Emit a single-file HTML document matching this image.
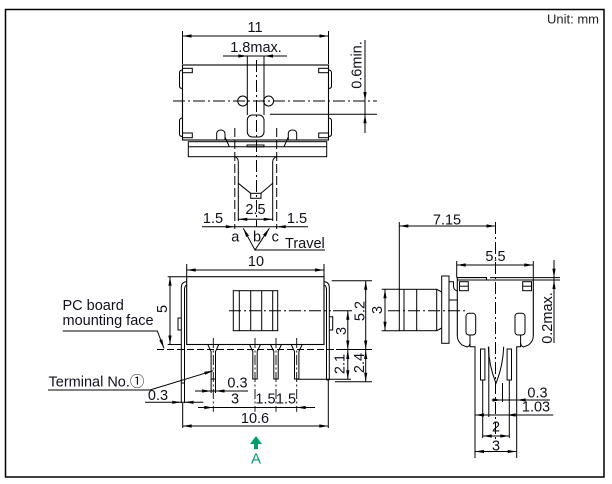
<!DOCTYPE html>
<html><head><meta charset="utf-8"><style>
html,body{margin:0;padding:0;background:#fff;}
svg{display:block;}
text{font-family:"Liberation Sans","Noto Sans CJK JP",sans-serif;fill:#10101c;font-size:14.5px;}
</style></head><body>
<svg width="612" height="484" viewBox="0 0 612 484" xmlns="http://www.w3.org/2000/svg">
<rect x="0" y="0" width="612" height="484" fill="#fff"/>
<rect x="5.5" y="9.5" width="598.5" height="467.5" fill="none" stroke="#000" stroke-width="1.5"/>
<text x="599" y="23.5" text-anchor="end" style="font-size:13px;fill:#222">Unit: mm</text>

<g fill="none" stroke="#000" stroke-width="1">
<!-- TOP VIEW -->
<line x1="182.5" y1="31" x2="182.5" y2="64"/>
<line x1="328.5" y1="31" x2="328.5" y2="64"/>
<line x1="182.5" y1="36" x2="328.5" y2="36"/>
<line x1="223" y1="56" x2="287" y2="56"/>
<line x1="247.3" y1="56" x2="247.3" y2="115"/>
<line x1="264" y1="56" x2="264" y2="115"/>
<line x1="256.5" y1="60" x2="256.5" y2="227" stroke-dasharray="12,3,2,3"/>
<rect x="182.5" y="65" width="146" height="75" stroke-width="1.1"/>
<rect x="182.5" y="68.3" width="9.8" height="4.4"/>
<rect x="318.7" y="68.3" width="9.8" height="4.4"/>
<rect x="182.5" y="133" width="9.8" height="4.7"/>
<rect x="318.7" y="133" width="9.8" height="4.7"/>
<path d="M182.5,70 Q179.5,70 179.5,73 V86 Q179.5,88.5 182.5,88.5"/>
<path d="M182.5,118 Q179.5,118 179.5,121 V134 Q179.5,136.5 182.5,136.5"/>
<path d="M328.5,70 Q331.5,70 331.5,73 V86 Q331.5,88.5 328.5,88.5"/>
<path d="M328.5,118 Q331.5,118 331.5,121 V134 Q331.5,136.5 328.5,136.5"/>
<line x1="173" y1="101" x2="377" y2="101" stroke-dasharray="12,3,2,3"/>
<circle cx="242.7" cy="101" r="5"/>
<circle cx="268.6" cy="101" r="5"/>
<rect x="247.3" y="115" width="16.7" height="22" rx="5"/>
<line x1="270" y1="114.3" x2="377" y2="114.3"/>
<line x1="365" y1="40" x2="365" y2="133"/>
<path d="M216.7,140 V133 Q217.5,130 220.8,130 Q224,130 225,133 V140"/>
<path d="M288.3,140 V133 Q289,130 292.5,130 Q296,130 296.7,133 V140"/>
<path d="M225,137 L229.3,146.7"/>
<path d="M288.3,137 L284,146.7"/>
<rect x="188.3" y="141.7" width="138.4" height="15"/>
<line x1="188.3" y1="146.7" x2="326.7" y2="146.7"/>
<rect x="247" y="145" width="17" height="1.8"/>
<path d="M235,156.7 Q238.3,158 238.3,162 V221"/>
<path d="M276.7,156.7 Q272.7,158 272.7,162 V221"/>
<path d="M238.3,183.3 L250.7,193.3 M272.7,183.3 L261,193.3"/>
<rect x="250.7" y="193.3" width="10.3" height="5"/>
<line x1="234.8" y1="128" x2="234.8" y2="229" stroke-dasharray="9,3"/>
<line x1="276.7" y1="128" x2="276.7" y2="229" stroke-dasharray="9,3"/>
<line x1="238.3" y1="219.3" x2="272.7" y2="219.3"/>
<line x1="202" y1="226.7" x2="308" y2="226.7"/>
<path d="M243.3,228.3 L255,250 L269.3,228.3"/>
<line x1="255" y1="250" x2="325" y2="250"/>

<!-- FRONT VIEW -->
<line x1="186.7" y1="264" x2="186.7" y2="277"/>
<line x1="324" y1="264" x2="324" y2="277"/>
<line x1="186.7" y1="270" x2="324" y2="270"/>
<rect x="186.7" y="276.7" width="137.3" height="67.8" stroke-width="1.1"/>
<path d="M186.7,281.7 Q181.3,281.7 181.3,288 V403"/>
<path d="M186.7,285 Q184.5,285.5 184.5,290 V403"/>
<path d="M181.3,383 H184.5"/>
<path d="M181.3,318 H178 V330 H181.3"/>
<path d="M324,281.7 Q329.3,281.7 329.3,288 V380"/>
<path d="M324,285 Q326.5,285.5 326.5,290 V380"/>
<path d="M326.5,380 H329.3"/>
<path d="M329.3,316.7 H332.7 V330 H329.3"/>
<line x1="328.3" y1="380" x2="328.3" y2="428"/>
<line x1="182.7" y1="403" x2="182.7" y2="428"/>
<rect x="233.3" y="290.7" width="44.4" height="40"/>
<path d="M239.3,290.7 V330.7 M250.7,290.7 V330.7 M261.7,290.7 V330.7 M272.7,290.7 V330.7"/>
<line x1="229" y1="310.7" x2="331" y2="310.7" stroke-dasharray="12,3,2,3"/>
<line x1="333" y1="310.7" x2="352" y2="310.7"/>
<line x1="331.7" y1="280.7" x2="372" y2="280.7"/>
<line x1="157" y1="349.5" x2="336" y2="349.5" stroke-dasharray="7,3"/>
<line x1="336" y1="349.5" x2="372" y2="349.5"/>
<line x1="335" y1="381.7" x2="372" y2="381.7"/>
<line x1="296.7" y1="379.3" x2="351" y2="379.3"/>
<line x1="167.7" y1="276.7" x2="186.7" y2="276.7"/>
<line x1="167.7" y1="344.5" x2="181" y2="344.5"/>
<line x1="170" y1="276.7" x2="170" y2="344.5"/>
<line x1="365.7" y1="280.7" x2="365.7" y2="381.7"/>
<line x1="347.8" y1="310.7" x2="347.8" y2="379.3"/>
<line x1="385" y1="289.3" x2="385" y2="330.7"/>
<line x1="381.7" y1="289.3" x2="399.3" y2="289.3"/>
<line x1="381.7" y1="330.7" x2="399.3" y2="330.7"/>
<!-- terminals -->
<path d="M207.8,344.5 L211.1,351.5 V379 H215.5 V351.5 L218.8,344.5"/>
<path d="M249.5,344.5 L252.8,351.5 V379 H257.2 V351.5 L260.5,344.5"/>
<path d="M270.5,344.5 L273.8,351.5 V379 H278.2 V351.5 L281.5,344.5"/>
<path d="M291.2,344.5 L294.5,351.5 V379 H298.9 V351.5 L302.2,344.5"/>
<g stroke-dasharray="10,2.5,2,2.5" stroke-width="0.9">
<line x1="213.3" y1="338" x2="213.3" y2="411.7"/>
<line x1="255" y1="338" x2="255" y2="411.7"/>
<line x1="276" y1="338" x2="276" y2="411.7"/>
<line x1="296.7" y1="338" x2="296.7" y2="411.7"/>
</g>
<line x1="211.1" y1="379" x2="211.1" y2="393"/>
<line x1="215.5" y1="379" x2="215.5" y2="393"/>
<path d="M48,390 H150 L213.3,370.7"/>
<path d="M62.7,331 H157.3 L164,348.3"/>
<line x1="195" y1="391" x2="248" y2="391"/>
<line x1="198" y1="407.5" x2="315" y2="407.5"/>
<line x1="182.7" y1="426" x2="328.3" y2="426"/>
<line x1="145" y1="402.3" x2="203.3" y2="402.3"/>

<!-- SIDE VIEW -->
<line x1="399.3" y1="226" x2="495.5" y2="226"/>
<line x1="399.3" y1="222" x2="399.3" y2="289.3"/>
<line x1="495.5" y1="222" x2="495.5" y2="440" stroke-dasharray="12,3,2,3"/>
<line x1="456.7" y1="265" x2="533.3" y2="265"/>
<line x1="456.7" y1="261" x2="456.7" y2="277.6"/>
<line x1="533.3" y1="261" x2="533.3" y2="280"/>
<line x1="554" y1="260" x2="554" y2="343"/>
<line x1="490" y1="277.6" x2="560" y2="277.6"/>
<line x1="533.3" y1="280" x2="560" y2="280"/>
<path d="M457.3,336 V277.6 H486.5 V280 M457.3,280 H533.3 V336" stroke-width="1.1"/>
<rect x="459.5" y="281.7" width="8.8" height="9"/>
<line x1="459.5" y1="286.2" x2="468.3" y2="286.2"/>
<rect x="522.7" y="281.7" width="8.8" height="9"/>
<line x1="522.7" y1="286.2" x2="531.5" y2="286.2"/>
<rect x="399.3" y="289.3" width="37.4" height="41.4"/>
<path d="M404,289.3 V330.7 M416.7,289.3 V330.7"/>
<path d="M436.7,289.3 L441.7,292 M436.7,330.7 L441.7,328"/>
<rect x="441.7" y="276" width="7.3" height="67.3"/>
<path d="M449,281.7 H453.5 V286 Q453.5,290 457.3,291"/>
<path d="M449,300 H457.3"/>
<line x1="388" y1="310.7" x2="468" y2="310.7" stroke-dasharray="12,3,2,3"/>
<rect x="466" y="313.3" width="9.7" height="21.7" rx="3"/>
<rect x="515" y="313.3" width="10" height="21.7" rx="3"/>
<path d="M457.3,336 Q457.3,341 462,345 L467,347 Q470,346 470,343 V335"/>
<path d="M533.3,336 Q533.3,341 528.6,345 L523.6,347 Q520.6,346 520.6,343 V335"/>
<path d="M470,343 V346.7 H475 V458"/>
<path d="M520.6,343 V346.7 H516.7 V458"/>
<rect x="480.5" y="349" width="4.4" height="31"/>
<rect x="507.1" y="349" width="4.4" height="31"/>
<line x1="482.7" y1="380" x2="482.7" y2="438"/>
<line x1="509.3" y1="380" x2="509.3" y2="438"/>
<path d="M488.3,346.7 Q489,366 496,383.3 Q503,366 503.7,346.7"/>
<line x1="488.8" y1="346.7" x2="488.8" y2="417"/>
<line x1="502.5" y1="383" x2="502.5" y2="402"/>
<line x1="491.7" y1="400" x2="550" y2="400"/>
<line x1="475" y1="415" x2="553.3" y2="415"/>
<line x1="482.7" y1="436" x2="509.3" y2="436"/>
<line x1="475" y1="451.5" x2="516.7" y2="451.5"/>
</g>

<g fill="#000" stroke="none">
<!-- top view arrows -->
<polygon points="182.5,36 191.5,34.4 191.5,37.6"/>
<polygon points="328.5,36 319.5,34.4 319.5,37.6"/>
<polygon points="247.3,56 238.3,54.4 238.3,57.6"/>
<polygon points="264,56 273,54.4 273,57.6"/>
<polygon points="365,101 363.4,92 366.6,92"/>
<polygon points="365,114.3 363.4,123.3 366.6,123.3"/>
<polygon points="238.3,219.3 247.3,217.7 247.3,220.9"/>
<polygon points="272.7,219.3 263.7,217.7 263.7,220.9"/>
<polygon points="234.8,226.7 225.8,225.1 225.8,228.3"/>
<polygon points="276.7,226.7 285.7,225.1 285.7,228.3"/>
<polygon points="243.3,228.3 249,235.5 246.2,237"/>
<polygon points="269.3,228.3 265.7,236.7 263,234.9"/>
<!-- front view arrows -->
<polygon points="186.7,270 195.7,268.4 195.7,271.6"/>
<polygon points="324,270 315,268.4 315,271.6"/>
<polygon points="170,276.7 168.4,285.7 171.6,285.7"/>
<polygon points="170,344.5 168.4,335.5 171.6,335.5"/>
<polygon points="365.7,280.7 364.1,289.7 367.3,289.7"/>
<polygon points="365.7,349.5 364.1,340.5 367.3,340.5"/>
<polygon points="365.7,350 364.1,359 367.3,359"/>
<polygon points="365.7,381.7 364.1,372.7 367.3,372.7"/>
<polygon points="347.8,310.7 346.2,319.7 349.4,319.7"/>
<polygon points="347.8,349.5 346.2,340.5 349.4,340.5"/>
<polygon points="347.8,350 346.2,359 349.4,359"/>
<polygon points="347.8,379.3 346.2,370.3 349.4,370.3"/>
<polygon points="385,289.3 383.4,298.3 386.6,298.3"/>
<polygon points="385,330.7 383.4,321.7 386.6,321.7"/>
<polygon points="211.1,391 202.1,389.4 202.1,392.6"/>
<polygon points="215.5,391 224.5,389.4 224.5,392.6"/>
<polygon points="213.3,407.5 204.3,405.9 204.3,409.1"/>
<polygon points="296.7,407.5 305.7,405.9 305.7,409.1"/>
<polygon points="182.7,426 191.7,424.4 191.7,427.6"/>
<polygon points="328.3,426 319.3,424.4 319.3,427.6"/>
<polygon points="181.3,402.3 172.3,400.7 172.3,403.9"/>
<polygon points="184.5,402.3 193.5,400.7 193.5,403.9"/>
<polygon points="213.3,370.7 205.1,374.8 204.2,371.7"/>
<polygon points="164,348.3 162.2,339.3 159.3,340.5"/>
<!-- side view arrows -->
<polygon points="399.3,226 408.3,224.4 408.3,227.6"/>
<polygon points="495.5,226 486.5,224.4 486.5,227.6"/>
<polygon points="456.7,265 465.7,263.4 465.7,266.6"/>
<polygon points="533.3,265 524.3,263.4 524.3,266.6"/>
<polygon points="554,277.6 552.4,268.6 555.6,268.6"/>
<polygon points="554,280 552.4,289 555.6,289"/>
<polygon points="501.7,400 492.7,398.4 492.7,401.6"/>
<polygon points="516.7,400 525.7,398.4 525.7,401.6"/>
<polygon points="475,415 484,413.4 484,416.6"/>
<polygon points="506.7,415 515.7,413.4 515.7,416.6"/>
<polygon points="482.7,436 491.7,434.4 491.7,437.6"/>
<polygon points="509.3,436 500.3,434.4 500.3,437.6"/>
<polygon points="475,451.5 484,449.9 484,453.1"/>
<polygon points="516.7,451.5 507.7,449.9 507.7,453.1"/>
</g>

<!-- green arrow -->
<polygon points="256,436 250,444 254,444 254,449.3 258,449.3 258,444 262,444" fill="#00a06e"/>
<text x="256" y="463.5" text-anchor="middle" style="fill:#00a06e;font-size:15px">A</text>

<!-- texts -->
<g text-anchor="middle">
<text x="255" y="32">11</text>
<text x="256" y="52">1.8max.</text>
<text transform="translate(361.5,65) rotate(-90)">0.6min.</text>
<text x="255.5" y="214">2.5</text>
<text x="213" y="223">1.5</text>
<text x="297" y="223">1.5</text>
<text x="235.3" y="241.7">a</text>
<text x="257" y="241.7">b</text>
<text x="275.3" y="241.7">c</text>
<text x="256" y="266">10</text>
<text transform="translate(167,309) rotate(-90)">5</text>
<text transform="translate(364.5,311) rotate(-90)">5.2</text>
<text transform="translate(346,331) rotate(-90)">3</text>
<text transform="translate(364,363) rotate(-90)">2.4</text>
<text transform="translate(344.5,364) rotate(-90)">2.1</text>
<text transform="translate(382,310) rotate(-90)">3</text>
<text x="237.5" y="387.5">0.3</text>
<text x="158" y="400">0.3</text>
<text x="235" y="403.5">3</text>
<text x="265.5" y="403.5">1.5</text>
<text x="286" y="403.5">1.5</text>
<text x="255" y="423">10.6</text>
<text x="447" y="224.5">7.15</text>
<text x="495.5" y="261">5.5</text>
<text transform="translate(552,318) rotate(-90)">0.2max.</text>
<text x="537.5" y="397.7">0.3</text>
<text x="536" y="411.7">1.03</text>
<text x="496" y="431.7">2</text>
<text x="496" y="450.3">3</text>
</g>
<text x="285" y="248">Travel</text>
<text x="62.5" y="310">PC board</text>
<text x="62.5" y="325">mounting face</text>
<text x="48.5" y="386.5">Terminal No.①</text>
</svg>
</body></html>
